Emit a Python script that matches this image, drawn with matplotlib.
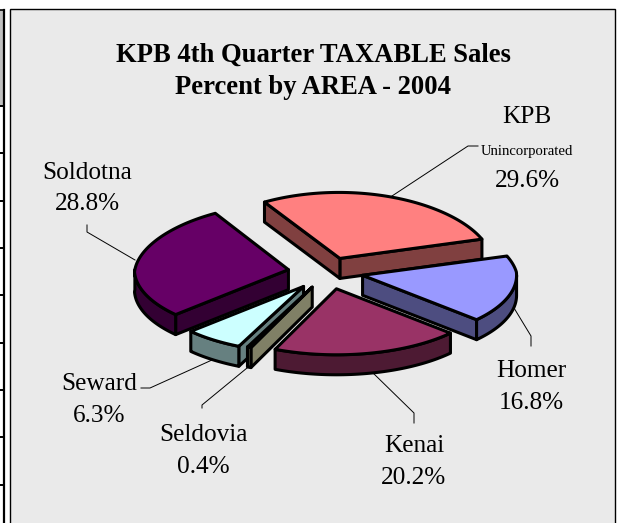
import numpy as np
import matplotlib.pyplot as plt

plt.rcParams['font.family'] = ['Liberation Serif', 'DejaVu Serif']

areas = ['KPB', 'Homer', 'Kenai', 'Seldovia', 'Seward', 'Soldotna']
shares = [29.6, 16.8, 20.2, 0.4, 6.3, 28.8]
top_colors = ['#FF8080', '#9999FF', '#993366', '#FFFFCC', '#CCFFFF', '#660066']
side_colors = ['#804040', '#4D4D80', '#4D1A33', '#808066', '#668080', '#330033']
explode = [0.22, 0.23, 0.26, 0.25, 0.27, 0.26]
row_lines = [106, 153, 201, 248, 295, 343, 390, 437, 485]

W, H = 622, 523
CX, CY = 328, 272
RX, RY = 154, 66
DEPTH = 20
START = 17.0
PERSP = 0.001

fig = plt.figure(figsize=(W / 100, H / 100), dpi=100)
ax = fig.add_axes([0, 0, 1, 1])
ax.set_xlim(0, W)
ax.set_ylim(H, 0)
ax.axis('off')

# bit of the table next to the chart
ax.fill([0, 4, 4, 0], [10, 10, 106, 106], color='#C0C0C0', lw=0)
ax.plot([4, 4], [10, H], color='black', lw=1.6)
ax.plot([0, 4], [10, 10], color='black', lw=1.2)
for y in row_lines:
    ax.plot([0, 4], [y, y], color='black', lw=1.4)

# chart area
ax.fill([10, 615, 615, 10], [9, 9, H + 2, H + 2], facecolor='#EAEAEA',
        edgecolor='black', lw=1.0, zorder=1)


def squeeze(x, y):
    # the back of the pie is a little narrower than the front
    return CX + (x - CX) * (1 + PERSP * np.minimum(y - CY, 0)), y


def pt(a, cx, cy):
    return squeeze(cx + RX * np.cos(np.radians(a)), cy - RY * np.sin(np.radians(a)))


def draw_wedge(a1, a2, e, top, side, z):
    mid = np.radians((a1 + a2) / 2)
    cx, cy = squeeze(CX + e * RX * np.cos(mid), CY - e * RY * np.sin(mid))
    kw = dict(edgecolor='black', lw=2.2, joinstyle='round', zorder=z)
    # cut walls that face the viewer
    for a, vis in ((a1, np.cos(np.radians(a1)) > 0), (a2, np.cos(np.radians(a2)) < 0)):
        if vis:
            x, y = pt(a, cx, cy)
            ax.fill([cx, x, x, cx], [cy, y, y + DEPTH, cy + DEPTH], facecolor=side, **kw)
    # outer wall, lower half of the ellipse only
    s1, s2 = max(a1, -180), min(a2, 0)
    if s2 > s1:
        t = np.linspace(s1, s2, 80)
        x, y = pt(t, cx, cy)
        ax.fill(np.r_[x, x[::-1]], np.r_[y, y[::-1] + DEPTH], facecolor=side, **kw)
    t = np.linspace(a1, a2, 120)
    x, y = pt(t, cx, cy)
    ax.fill(np.r_[cx, x], np.r_[cy, y], facecolor=top, **kw)


# KPB goes counterclockwise from the start angle, the rest clockwise
spans = np.array(shares) / sum(shares) * 360
wedges = {'KPB': (START, START + spans[0])}
cur = START
for i in range(1, len(areas)):
    wedges[areas[i]] = (cur - spans[i], cur)
    cur -= spans[i]

order = ['KPB', 'Soldotna', 'Homer', 'Seward', 'Seldovia', 'Kenai']
for z, name in enumerate(order):
    i = areas.index(name)
    a1, a2 = wedges[name]
    draw_wedge(a1, a2, explode[i], top_colors[i], side_colors[i], 3 + z)

# leaders
leaders = [
    [(87, 225), (87, 232), (135, 260)],
    [(141, 388), (150, 388), (212, 360)],
    [(202, 408), (202, 405), (247, 368)],
    [(372, 372), (414, 413), (414, 423)],
    [(514, 308), (531, 336), (531, 346)],
    [(392, 196), (468, 146), (478, 146)],
]
for line in leaders:
    xs, ys = zip(*line)
    ax.plot(xs, ys, color='black', lw=0.7, zorder=2)

ax.text(313, 55, 'KPB 4th Quarter TAXABLE Sales', ha='center', va='center',
        fontsize=19.2, fontweight='bold', zorder=10)
ax.text(313, 88, 'Percent by AREA - 2004', ha='center', va='center',
        fontsize=19.2, fontweight='bold', zorder=10)

labels = [
    (527, 117, 'KPB', 18.2), (527, 152, 'Unincorporated', 10.6), (527, 181, '29.6%', 18.2),
    (87, 173, 'Soldotna', 18.2), (87, 204, '28.8%', 18.2),
    (99, 384, 'Seward', 18.2), (99, 416, '6.3%', 18.2),
    (203, 435, 'Seldovia', 18.2), (203, 467, '0.4%', 18.2),
    (414, 446, 'Kenai', 18.2), (414, 478, '20.2%', 18.2),
    (531, 371, 'Homer', 18.2), (531, 403, '16.8%', 18.2),
]
for x, y, s, size in labels:
    ax.text(x, y, s, ha='center', va='center', fontsize=size, zorder=10)

fig.savefig('out.png', dpi=100)
